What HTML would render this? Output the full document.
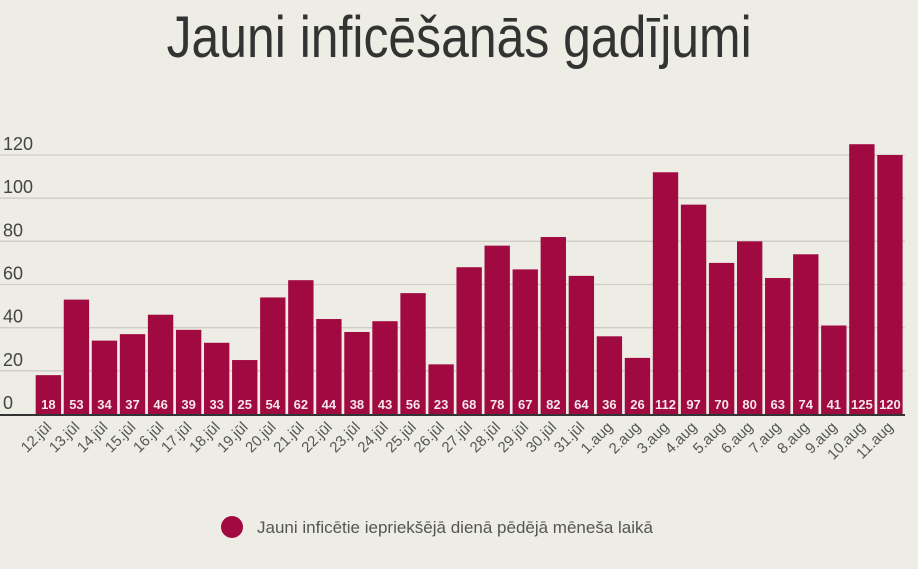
<!DOCTYPE html>
<html><head><meta charset="utf-8"><style>
body{margin:0;background:#edece5;width:918px;height:569px;overflow:hidden;font-family:"Liberation Sans",sans-serif}
#title{position:absolute;left:0;width:918px;top:4px;text-align:center;font-family:"Liberation Sans Narrow","Liberation Sans",sans-serif;font-size:58px;color:#333;letter-spacing:0px}
#title span{display:inline-block;transform:scaleX(0.86)}
</style></head><body>
<div id="title"><span>Jauni inficēšanās gadījumi</span></div>
<svg id="chart" width="918" height="569" style="position:absolute;left:0;top:0"></svg>
<script>
const categories=["12.jūl","13.jūl","14.jūl","15.jūl","16.jūl","17.jūl","18.jūl","19.jūl","20.jūl","21.jūl","22.jūl","23.jūl","24.jūl","25.jūl","26.jūl","27.jūl","28.jūl","29.jūl","30.jūl","31.jūl","1.aug","2.aug","3.aug","4.aug","5.aug","6.aug","7.aug","8.aug","9.aug","10.aug","11.aug"];
const values=[18,53,34,37,46,39,33,25,54,62,44,38,43,56,23,68,78,67,82,64,36,26,112,97,70,80,63,74,41,125,120];
const yTicks=[0,20,40,60,80,100,120];
const legendLabel="Jauni inficētie iepriekšējā dienā pēdējā mēneša laikā";
const NS="http://www.w3.org/2000/svg";
const svg=document.getElementById('chart');
const y0=414, k=(414-155)/120, x0=34.4, right=904;
const pitch=(right-x0)/categories.length, bw=pitch-2.7;
const y=v=>y0-v*k, x=i=>x0+i*pitch+1.3;
function mk(t,a){const e=document.createElementNS(NS,t);for(const n in a)e.setAttribute(n,a[n]);svg.appendChild(e);return e;}
yTicks.forEach(t=>{
 if(t>0){const l=mk('line',{x1:0,x2:905,y1:y(t),y2:y(t),stroke:'#cfcdc6','stroke-width':1.3});
 
 }
 const tx=mk('text',{x:3,y:y(t)-5,'font-size':18,fill:'#444'});tx.textContent=t;
 
 
});
values.forEach((v,i)=>{
 const r=mk('rect',{x:x(i),y:y(v),width:bw,height:y0-y(v),fill:'#a10a40'});
 
 
 const t=mk('text',{x:x(i)+bw/2,y:y0-5,'font-size':13,fill:'#f4e6ea','text-anchor':'middle','font-weight':'bold'});t.textContent=v;
 
 
 const cx=x(i)+bw/2+4, cy=y0+14;
 const c=mk('text',{x:cx,y:cy,'font-size':15,fill:'#555','text-anchor':'end',transform:`rotate(-45 ${cx} ${cy})`});c.textContent=categories[i];
 
 
});
const ax=mk('line',{x1:0,x2:905,y1:y0+1,y2:y0+1,stroke:'#333','stroke-width':2});


const lc=mk('circle',{cx:232,cy:527,r:11,fill:'#a10a40'});


const lt=mk('text',{x:257,y:533,'font-size':17,fill:'#555'});lt.textContent=legendLabel;


</script>
</body></html>
